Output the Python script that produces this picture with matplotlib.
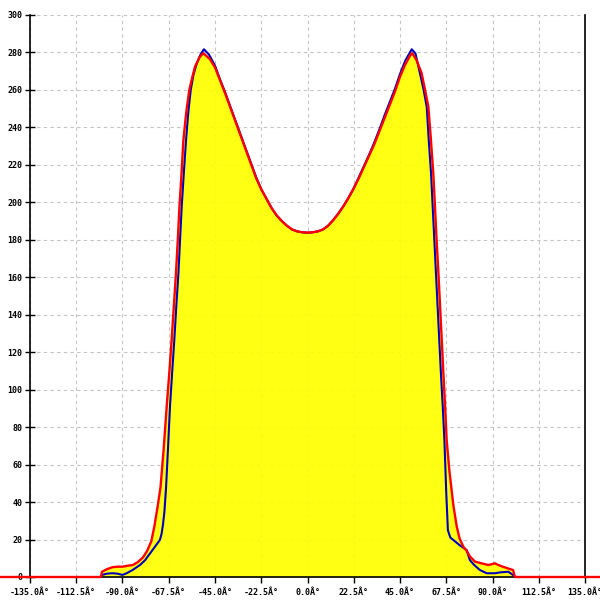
import matplotlib
matplotlib.use("Agg")
import matplotlib.pyplot as plt

# ---- data ----
red_x = [-150, -100.5, -100, -97.5, -95, -92.5, -90, -87.5, -85, -82.5, -80, -78, -76,
         -74.5, -73, -71.5, -70, -68.5, -67.3, -66.1, -65, -64, -63.1, -62.3, -61.3,
         -60.4, -59, -57.5, -56, -54.7, -52.5, -50.7, -47.5, -45, -42.5, -40, -37.5,
         -35, -32.5, -30, -27.5, -25, -22.5, -20, -17.5, -15, -12.5, -10, -7.5, -5,
         -2.5, 0, 2.5, 5, 7.5, 10, 12.5, 15, 17.5, 20, 22.5, 25, 27.5, 30, 32.5, 35,
         37.5, 40, 42.5, 45, 47.5, 50, 51, 53, 55.5, 57, 58.8, 60, 61.2, 62, 62.8,
         63.7, 64.5, 65.3, 66.1, 67, 67.7, 69, 70.1, 71, 72.6, 74, 75.8, 77.4, 79,
         81.5, 84.7, 88, 91.2, 92.8, 95, 97.5, 100, 100.9, 145]
red_y = [0, 0, 2.8, 4.2, 5.2, 5.5, 5.5, 6, 6.4, 8, 10.5, 14, 19,
         27, 37, 48, 68, 91, 108, 126.5, 145, 162, 180, 197.7, 215,
         233, 248, 260, 267, 272.5, 277.5, 279.6, 276.5, 272, 265, 258, 250.5,
         243, 235.5, 228, 220.5, 213, 207, 202, 197, 193, 190, 187.5, 185.5, 184.5,
         184, 183.8, 184, 184.5, 185.5, 187.5, 190.5, 194, 198, 202.5, 207.5, 213, 219, 225, 231, 238,
         245, 252, 259, 267, 273.5, 278.5, 279.6, 276, 269, 261, 251, 234, 215.5, 198, 180,
         162, 144.3, 127, 108.8, 90, 73.1, 57, 46.4, 38, 27, 20.5, 16.2, 14, 11,
         8.2, 7.3, 6.4, 7.3, 6.4, 5.5, 4.6, 3.7, 0, 0]

blue_x = [-100.5, -100, -97.5, -95, -92.5, -90, -88, -85, -81.5, -79, -76.6, -74, -71.8,
          -71, -70.3, -69.6, -68.8, -67.8, -66.9, -65.8, -64.8, -63.8, -62.8, -62,
          -61.2, -60.2, -59.1, -58, -56.8, -55.5, -53.9, -52, -50.4, -48, -45, -42.5,
          -40, -37.5, -35, -32.5, -30, -27.5, -25, -22.5, -20, -17.5, -15, -12.5, -10,
          -7.5, -5, -2.5, 0, 2.5, 5, 7.5, 10, 12.5, 15, 17.5, 20, 22.5, 25, 27.5, 30,
          32.5, 35, 37.5, 40, 42.5, 45, 47.5, 50.7, 52.5, 54.7, 56.5, 58, 59, 60.1,
          60.9, 61.7, 62.5, 63.3, 64.1, 64.9, 65.8, 66.6, 67.5, 68.3, 69.5, 70.9, 74,
          77.4, 79, 81, 83.9, 87.2, 91.2, 94, 97.7, 100.1, 100.9]
blue_y = [0, 1.1, 1.8, 2, 1.8, 1.1, 2, 3.8, 6.4, 9, 12.6, 16.5, 19.8,
          23, 28, 35, 48, 70, 91, 110, 126.5, 145, 162, 180,
          197.7, 215, 233, 248, 260, 268, 274, 279, 281.7, 279, 273, 265.5,
          258.5, 251, 243.5, 236, 228.5, 221, 213.5, 207, 202, 197, 193, 190, 187.5,
          185.5, 184.5, 184, 183.8, 184, 184.5, 185.5, 187.5, 190.5, 194, 198, 202.5, 207.5, 213.5, 219.5, 225.5,
          232, 239, 246.5, 253.5, 260.5, 268.5, 275.5, 281.7, 279.5, 268.9, 260, 251, 233, 215.5,
          197.7, 180, 162, 144.3, 126.5, 108.8, 91, 73.1, 45, 25, 21, 19.8, 17,
          14.4, 9, 6.5, 3.7, 2, 2, 2.5, 2.8, 1, 0]

x_ticks = [-135, -112.5, -90, -67.5, -45, -22.5, 0, 22.5, 45, 67.5, 90, 112.5, 135]
x_tick_labels = ["%.1fÂ°" % v for v in x_ticks]
y_ticks = list(range(0, 301, 20))

# ---- figure ----
fig = plt.figure(figsize=(6, 6), dpi=100)
ax = fig.add_axes([30 / 600, 1 - 577 / 600, 555 / 600, 562 / 600])
ax.set_xlim(-135, 135)
ax.set_ylim(0, 300)

ax.grid(True, color="#c4c4c4", linestyle=(0, (3, 3)), linewidth=0.8)
ax.set_axisbelow(True)

ax.fill_between(red_x, 0, red_y, color="#ffff00", alpha=0.92, linewidth=0, zorder=2)
ax.plot(blue_x, blue_y, color="#0000bb", linewidth=1.5, zorder=3)
ax.plot(red_x, red_y, color="#ff0000", linewidth=1.7, zorder=4, clip_on=False)

ax.spines["top"].set_visible(False)
for s in ["left", "right", "bottom"]:
    ax.spines[s].set_color("black")
    ax.spines[s].set_linewidth(1.2)

ax.set_xticks(x_ticks)
ax.set_xticklabels(x_tick_labels)
ax.set_yticks(y_ticks)
ax.set_yticklabels([str(v) for v in y_ticks])
ax.tick_params(axis="y", direction="inout", length=7, width=1, pad=2,
               labelsize=6)
ax.tick_params(axis="x", direction="out", length=4, width=1, pad=4,
               labelsize=6)
for lab in ax.get_xticklabels() + ax.get_yticklabels():
    lab.set_family("DejaVu Sans Mono")
    lab.set_weight("bold")

fig.savefig("out.png", dpi=100)
